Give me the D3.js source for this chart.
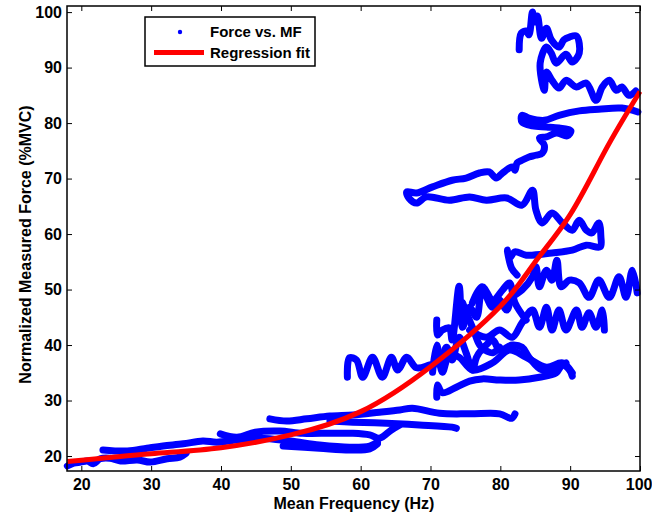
<!DOCTYPE html>
<html>
<head>
<meta charset="utf-8">
<script src="https://cdn.jsdelivr.net/npm/d3@7/dist/d3.min.js"></script>
<style>
  html, body { margin: 0; padding: 0; background: #fff; }
  svg { display: block; }
  text { font-family: "Liberation Sans", Arial, Helvetica, sans-serif; font-weight: bold; fill: #000; }
</style>
</head>
<body>
<svg id="chart" width="652" height="521"></svg>
<script>
// Force vs. mean frequency trajectories, one [MF (Hz), force (%MVC)] list per recording
const trial01 = [[18.0,18.2],[18.9,18.7],[19.9,18.9],[20.9,19.1],[21.7,18.6],[22.7,19.5],[24.1,19.6],[25.6,19.1],[28.0,19.3],[29.9,18.9],[32.3,19.5],[34.1,19.8],[35.0,20.5]];
const trial02 = [[23.1,21.1],[26.6,20.9],[29.4,21.4],[31.7,21.8],[34.6,22.2],[37.4,22.7],[39.4,22.5],[42.3,22.9],[45.6,23.2],[49.9,22.7],[54.1,22.0],[58.4,21.6],[61.3,21.8],[62.4,22.5]];
const trial03 = [[39.9,24.0],[42.3,23.4],[44.9,24.3],[48.4,24.5],[51.7,24.1],[55.6,24.1],[58.9,24.1],[61.3,23.8],[62.7,23.2],[64.4,24.7],[65.6,25.6]];
const trial04 = [[48.9,21.8],[54.1,21.4],[58.4,21.1],[61.3,21.3],[62.4,22.2]];
const trial05 = [[47.0,26.7],[49.4,26.3],[52.3,26.7],[55.6,27.2],[58.9,27.4],[62.7,27.9],[65.6,28.3],[67.4,28.6],[71.3,27.7],[75.6,27.6],[79.9,27.6],[81.6,26.8],[82.1,27.6]];
const trial06 = [[55.6,26.3],[58.9,26.1],[63.7,25.9],[68.4,25.6],[73.1,25.2],[73.7,25.0]];
const trial07 = [[70.9,30.6],[71.0,32.8],[71.7,31.4],[73.7,32.4],[75.6,33.5],[77.4,33.9],[79.9,33.7],[82.7,33.7],[85.6,34.2],[88.0,35.0],[88.9,36.4],[89.9,35.5],[90.3,34.4]];
const trial08 = [[58.1,34.2],[58.4,37.7],[59.4,37.3],[60.3,34.2],[61.7,37.8],[63.1,34.2],[64.4,37.8],[65.3,35.5],[66.6,37.8],[68.0,35.9],[69.9,36.4],[71.3,36.9],[72.3,39.6],[73.1,37.3],[74.1,41.4],[75.1,38.6],[76.0,35.5],[76.6,37.8],[77.4,39.1],[78.9,38.6],[79.9,39.6]];
const trial09 = [[70.9,44.5],[71.0,41.8],[71.7,42.7],[72.7,43.1],[73.1,40.9],[74.1,50.6],[74.6,43.2],[75.6,46.8],[76.6,45.0],[77.4,49.9],[78.9,46.8],[79.9,48.1],[80.9,46.3],[81.7,48.6],[83.1,49.9],[84.6,52.3],[85.1,54.1],[85.6,50.5],[86.6,53.5],[87.4,51.7],[88.1,55.3],[88.7,50.5],[89.9,51.7],[91.3,51.2],[92.7,48.6],[94.1,51.7],[95.6,48.6],[97.0,52.3],[98.0,48.6],[98.9,53.5],[99.6,49.4]];
const trial10 = [[74.6,47.6],[76.0,43.2],[77.4,39.6],[78.9,40.9],[79.9,39.1],[81.7,40.0],[83.1,39.6],[84.1,37.8],[86.0,35.5],[88.0,36.0],[89.4,36.8]];
const trial11 = [[75.6,42.7],[78.0,41.4],[79.9,42.7],[81.7,41.4],[83.1,44.0],[84.6,46.3],[85.6,43.2],[86.6,46.8],[87.4,42.7],[88.4,46.3],[89.4,42.7],[90.9,46.3],[91.7,43.2],[92.7,45.8],[93.7,43.2],[94.6,46.3],[94.9,42.7]];
const trial12 = [[70.3,35.1],[70.9,40.0],[71.7,35.1],[72.7,38.2],[74.1,37.8],[76.0,35.5],[78.9,36.8],[81.3,39.1],[83.7,37.8],[86.6,36.0],[88.9,36.8],[90.3,35.0]];
const trial13 = [[76.0,47.6],[77.4,50.5],[78.9,48.1],[80.3,49.9],[81.3,51.2],[82.1,47.6],[83.7,44.5]];
const trial14 = [[99.7,82.0],[97.4,82.7],[94.1,82.5],[91.3,82.2],[88.4,81.4],[86.3,80.5],[84.1,80.9],[83.1,81.4],[83.1,80.2],[84.6,79.5],[86.6,79.3],[88.4,79.1],[90.1,78.6],[89.6,77.7],[88.0,78.2],[86.6,77.5],[85.6,77.3],[86.3,76.0],[86.0,74.6],[85.1,74.2],[84.1,73.9],[83.1,73.3],[82.4,72.8],[82.1,71.5],[81.7,72.1],[80.3,71.0],[79.4,70.1],[78.4,71.2],[77.0,71.0],[75.1,70.1],[73.1,69.7],[70.3,68.5],[68.0,67.4],[66.6,67.6],[66.9,66.5],[68.0,65.6],[69.4,66.7],[72.7,66.1],[75.6,66.7],[78.0,66.1],[80.9,66.5],[83.1,65.2],[84.6,67.9],[85.1,64.3],[86.0,62.0],[87.4,63.8],[88.9,62.0],[90.3,60.7],[91.3,62.5],[92.3,60.7],[93.1,60.2],[94.1,62.0],[94.4,59.5],[94.3,57.7],[92.3,58.0],[90.3,57.1],[87.4,56.6],[83.7,56.2],[82.1,56.8],[81.3,55.7],[81.0,57.1],[81.6,53.9],[82.4,52.6]];
const trial15 = [[82.7,93.2],[83.0,96.2],[83.7,96.6],[84.1,95.9],[84.6,100.0],[84.9,98.2],[85.3,99.3],[85.9,95.3],[86.6,97.1],[87.3,95.0],[88.4,93.7],[89.1,95.0],[89.9,95.5],[90.9,95.7],[91.3,92.6],[90.3,91.0],[89.4,92.4],[88.0,90.8],[87.3,92.6],[86.6,93.7],[85.7,90.8],[86.3,85.9],[86.6,89.2],[87.4,87.7],[88.4,86.3],[89.4,87.7],[90.9,86.5],[92.3,87.2],[93.7,84.1],[94.6,86.5],[95.6,87.7],[96.6,85.9],[97.4,86.5],[98.4,85.0],[99.4,85.8]];
const trials = [trial01, trial02, trial03, trial04, trial05, trial06, trial07, trial08,
                trial09, trial10, trial11, trial12, trial13, trial14, trial15];

// Exponential regression curve sampled along MF
const fitMF    = [18, 30, 40, 50, 60, 70, 80, 85, 90, 95, 100];
const fitForce = [19.0, 20.4, 21.5, 23.8, 28.0, 36.1, 47.0, 55.0, 63.5, 75.0, 85.7];

const xTicks = [20, 30, 40, 50, 60, 70, 80, 90, 100];
const yTicks = [20, 30, 40, 50, 60, 70, 80, 90, 100];

const legendLabels = ["Force vs. MF", "Regression fit"];

const svg = d3.select("#chart");
const plot = { left: 67, right: 640, top: 6, bottom: 471 };

const x = d3.scaleLinear().domain([17.95, 100]).range([plot.left, plot.right]);
const y = d3.scaleLinear().domain([17.3, 101.1]).range([plot.bottom, plot.top]);

// Measured trajectories
const traj = d3.line()
  .x(d => x(d[0]))
  .y(d => y(d[1]))
  .curve(d3.curveCatmullRom.alpha(0.5));

svg.append("g").selectAll("path")
  .data(trials)
  .join("path")
  .attr("d", traj)
  .attr("fill", "none")
  .attr("stroke", "#0000ff")
  .attr("stroke-width", 7)
  .attr("stroke-linejoin", "round")
  .attr("stroke-linecap", "round");

// Regression fit
const fitPts = fitMF.map((m, i) => [m, fitForce[i]]);
svg.append("path")
  .attr("d", d3.line().x(d => x(d[0])).y(d => y(d[1])).curve(d3.curveNatural)(fitPts))
  .attr("fill", "none")
  .attr("stroke", "#ff0000")
  .attr("stroke-width", 5);

// Axes with inward ticks on all four sides
const fontSize = "16px";
const gx = svg.append("g").attr("transform", `translate(0,${plot.bottom})`)
  .call(d3.axisBottom(x).tickValues(xTicks).tickSize(-5).tickSizeOuter(0).tickPadding(8));
const gy = svg.append("g").attr("transform", `translate(${plot.left},0)`)
  .call(d3.axisLeft(y).tickValues(yTicks).tickSize(-5).tickSizeOuter(0).tickPadding(5));
const gt = svg.append("g").attr("transform", `translate(0,${plot.top})`)
  .call(d3.axisTop(x).tickValues(xTicks).tickSize(-5).tickSizeOuter(0).tickFormat(""));
const gr = svg.append("g").attr("transform", `translate(${plot.right},0)`)
  .call(d3.axisRight(y).tickValues(yTicks).tickSize(-5).tickSizeOuter(0).tickFormat(""));

[gx, gy, gt, gr].forEach(g => {
  g.select(".domain").remove();
  g.selectAll(".tick line").attr("stroke", "#000").attr("stroke-width", 1);
  g.selectAll(".tick text").attr("font-size", fontSize)
    .style("font-family", "'Liberation Sans', Arial, sans-serif").style("font-weight", "bold").attr("fill", "#000");
});
// keep the last bottom label inside the frame
gx.selectAll(".tick text").filter(d => d === 100).attr("text-anchor", "end").attr("dx", "12px");

svg.append("rect")
  .attr("x", plot.left).attr("y", plot.top)
  .attr("width", plot.right - plot.left).attr("height", plot.bottom - plot.top)
  .attr("fill", "none").attr("stroke", "#000").attr("stroke-width", 1.5);

// Axis titles
svg.append("text")
  .attr("x", (plot.left + plot.right) / 2 + 0.5).attr("y", 509)
  .attr("text-anchor", "middle").attr("font-size", fontSize)
  .text("Mean Frequency (Hz)");

svg.append("text")
  .attr("transform", `translate(31,${(plot.top + plot.bottom) / 2 + 6}) rotate(-90)`)
  .attr("text-anchor", "middle").attr("font-size", fontSize)
  .text("Normalized Measured Force (%MVC)");

// Legend
const lg = svg.append("g");
lg.append("rect")
  .attr("x", 145).attr("y", 17).attr("width", 170).attr("height", 49)
  .attr("fill", "#fff").attr("stroke", "#000").attr("stroke-width", 1.5);
lg.append("circle").attr("cx", 180).attr("cy", 32).attr("r", 2.2).attr("fill", "#0000ff");
lg.append("line").attr("x1", 154).attr("x2", 204).attr("y1", 52.5).attr("y2", 52.5)
  .attr("stroke", "#ff0000").attr("stroke-width", 5);
lg.append("text").attr("x", 210).attr("y", 37).attr("font-size", "15px").text(legendLabels[0]);
lg.append("text").attr("x", 210).attr("y", 58).attr("font-size", "15px").text(legendLabels[1]);
</script>
</body>
</html>
